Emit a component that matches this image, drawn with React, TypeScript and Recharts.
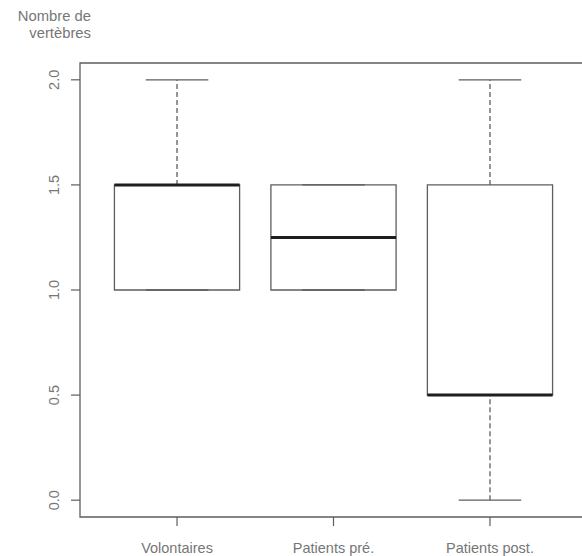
import React from 'react';
import { ComposedChart, XAxis, YAxis, ReferenceArea, ReferenceLine, Line } from 'recharts';

const categories = ['Volontaires', 'Patients pré.', 'Patients post.'];
const positions = [1, 2, 3];
const mins = [1, 1, 0];
const q1s = [1, 1, 0.5];
const medians = [1.5, 1.25, 0.5];
const q3s = [1.5, 1.5, 1.5];
const maxs = [2, 1.5, 2];
const yTicks = [0, 0.5, 1, 1.5, 2];
const yTitle = ['Nombre de', 'vertèbres'];

const data = categories.map((c, i) => ({ pos: positions[i], name: c, median: medians[i] }));

const FONT = '"Liberation Sans", Arial, sans-serif';
const TEXT = '#767676';
const LINE = '#5e5e5e';
const HALF = 0.4;
const CAP = 0.2;

const YTick = (props: any) => {
  const { x, y, payload } = props;
  const bx = x - 10;
  return (
    <text x={bx} y={y} transform={`rotate(-90, ${bx}, ${y})`} textAnchor="middle"
      fontFamily={FONT} fontSize={14.5} fill={TEXT}>
      {Number(payload.value).toFixed(1)}
    </text>
  );
};

const XTick = (props: any) => {
  const { x, y, payload } = props;
  const idx = positions.indexOf(payload.value);
  return (
    <text x={x} y={y + 25} textAnchor="middle" fontFamily={FONT} fontSize={14.5} fill={TEXT}>
      {categories[idx]}
    </text>
  );
};

export default function App() {
  return (
    <div style={{ position: 'absolute', left: 0, top: 0, width: 582, height: 556, overflow: 'hidden', background: '#fff', fontFamily: FONT }}>
      <div style={{ position: 'absolute', left: 0, top: 7.5, width: 91, textAlign: 'right', fontSize: 14.8, lineHeight: '17px', color: TEXT, whiteSpace: 'nowrap' }}>
        {yTitle.map((t) => <div key={t}>{t}</div>)}
      </div>
      <ComposedChart width={600} height={556} data={data} margin={{ top: 63, right: 13, bottom: 0, left: 0 }}>
        <XAxis dataKey="pos" type="number" domain={[0.38, 3.62]} ticks={positions} allowDataOverflow
          height={39} axisLine={false} tickLine={{ stroke: LINE, strokeWidth: 1.2 }} tickSize={9} tick={<XTick />} interval={0} />
        <YAxis type="number" domain={[-0.08, 2.08]} ticks={yTicks} allowDataOverflow width={80}
          axisLine={false} tickLine={{ stroke: LINE, strokeWidth: 1.2 }} tickSize={9} tick={<YTick />} interval={0} />
        <ReferenceArea x1={0.38} x2={3.62} y1={-0.08} y2={2.08} fill="none" stroke={LINE} strokeWidth={1.3} ifOverflow="visible" />
        {categories.map((c, i) => (
          <ReferenceLine key={`wu${i}`} segment={[{ x: positions[i], y: q3s[i] }, { x: positions[i], y: maxs[i] }]}
            stroke={LINE} strokeWidth={1.3} strokeDasharray="5 3" ifOverflow="visible" />
        ))}
        {categories.map((c, i) => (
          <ReferenceLine key={`wl${i}`} segment={[{ x: positions[i], y: mins[i] }, { x: positions[i], y: q1s[i] }]}
            stroke={LINE} strokeWidth={1.3} strokeDasharray="5 3" ifOverflow="visible" />
        ))}
        {categories.map((c, i) => (
          <ReferenceLine key={`cu${i}`} segment={[{ x: positions[i] - CAP, y: maxs[i] }, { x: positions[i] + CAP, y: maxs[i] }]}
            stroke={LINE} strokeWidth={1.3} ifOverflow="visible" />
        ))}
        {categories.map((c, i) => (
          <ReferenceLine key={`cl${i}`} segment={[{ x: positions[i] - CAP, y: mins[i] }, { x: positions[i] + CAP, y: mins[i] }]}
            stroke={LINE} strokeWidth={1.3} ifOverflow="visible" />
        ))}
        {categories.map((c, i) => (
          <ReferenceArea key={`b${i}`} x1={positions[i] - HALF} x2={positions[i] + HALF} y1={q1s[i]} y2={q3s[i]}
            fill="#ffffff" fillOpacity={1} stroke={LINE} strokeWidth={1.3} ifOverflow="visible" />
        ))}
        {categories.map((c, i) => (
          <ReferenceLine key={`m${i}`} segment={[{ x: positions[i] - HALF, y: medians[i] }, { x: positions[i] + HALF, y: medians[i] }]}
            stroke="#1e1e1e" strokeWidth={3} ifOverflow="visible" />
        ))}
        <Line dataKey="median" stroke="none" dot={false} activeDot={false} isAnimationActive={false} />
      </ComposedChart>
    </div>
  );
}
